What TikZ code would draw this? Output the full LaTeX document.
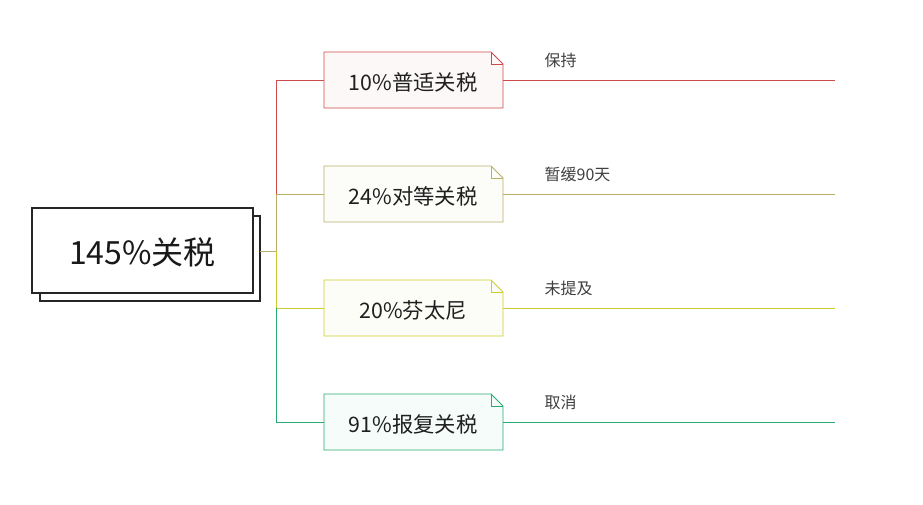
\documentclass[tikz,border=0pt]{standalone}
\usepackage{fontspec}
\setmainfont{Noto Sans CJK SC}
\definecolor{cr}{RGB}{205,75,75}
\definecolor{co}{RGB}{185,175,105}
\definecolor{cy}{RGB}{205,205,50}
\definecolor{cg}{RGB}{40,170,115}
\begin{document}
\begin{tikzpicture}[x=0.75pt,y=-0.75pt,
  lab/.style={font=\fontsize{12}{14}\selectfont,text=black!75,anchor=west},
  btxt/.style={font=\fontsize{16}{19}\selectfont,text=black!88}]
\fill[white] (0,0) rectangle (923,504);
\useasboundingbox (0,0) rectangle (923,504);
% main box
\draw[black!85,line width=1.2pt,fill=white] (40,216) rectangle (260,301);
\draw[black!85,line width=1.2pt,fill=white] (32,208) rectangle (253,293);
\node[font=\fontsize{24}{28}\selectfont,text=black!90] (m) at (142.5,252) {145\%关税};
\coordinate (mr) at (260,251);
\coordinate (t) at (276,251);
\draw[co,line width=0.6pt] (mr) -- (t);
\foreach \y/\c/\txt/\lbl/\n in {80/cr/10\%普适关税/保持/a,194/co/24\%对等关税/暂缓90天/b,308/cy/20\%芬太尼/未提及/c,422/cg/91\%报复关税/取消/d}{
  \draw[\c,line width=0.7pt,fill=\c!4] (324,\y-28) -- (491,\y-28) -- (503,\y-16) -- (503,\y+28) -- (324,\y+28) -- cycle;
  \draw[\c,line width=0.5pt] (491,\y-28) -- (491,\y-16) -- (503,\y-16);
  \node[btxt] (\n) at (413,\y+2) {\txt};
  \coordinate (\n l) at (276,\y);
  \coordinate (\n e) at (835,\y);
  \draw[\c,line width=0.6pt] (\n l) -- (324,\y);
  \draw[\c,line width=0.6pt] (503,\y) -- (\n e);
  \node[lab] at (540,\y-20) {\lbl};
}
\draw[cr,line width=0.6pt] (al) -- (bl);
\draw[co,line width=0.6pt] (bl) -- (t);
\draw[cy,line width=0.6pt] (t) -- (cl);
\draw[cg,line width=0.6pt] (cl) -- (dl);
\end{tikzpicture}
\end{document}
